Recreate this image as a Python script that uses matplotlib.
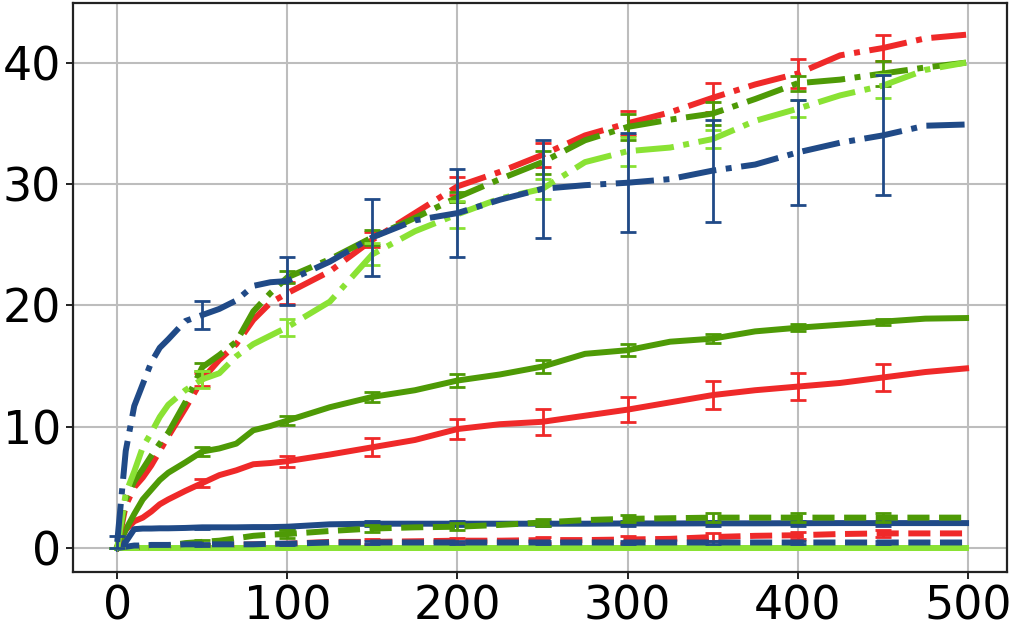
import matplotlib
matplotlib.use("Agg")
import matplotlib.pyplot as plt
import numpy as np

# sample positions along the horizontal axis
X = [0, 5, 10, 15, 20, 25, 30, 40, 50, 60, 70, 80, 90, 100, 125, 150, 175,
     200, 225, 250, 275, 300, 325, 350, 375, 400, 425, 450, 475, 499]
ERR_X = [0, 50, 100, 150, 200, 250, 300, 350, 400, 450]

# red
red_solid = [0, 1.5, 2.2, 2.5, 3.0, 3.6, 4.0, 4.7, 5.35, 6.0, 6.4, 6.9, 7.0, 7.15, 7.7, 8.3, 8.9,
             9.8, 10.2, 10.4, 10.9, 11.4, 12.0, 12.6, 13.0, 13.3, 13.6, 14.05, 14.5, 14.8]
red_dashed = [0, 0, 0.05, 0.1, 0.1, 0.1, 0.15, 0.15, 0.2, 0.2, 0.25, 0.3, 0.3, 0.35, 0.5, 0.5, 0.55,
              0.6, 0.6, 0.65, 0.65, 0.7, 0.75, 0.9, 1.0, 1.05, 1.15, 1.2, 1.2, 1.2]
red_dashdot = [0, 3.5, 5.0, 5.8, 6.8, 8.0, 9.2, 11.5, 13.9, 15.5, 16.8, 18.8, 20.2, 21.0, 22.8, 25.4, 27.6,
               29.8, 31.0, 32.4, 34.0, 35.0, 35.9, 37.1, 38.2, 39.1, 40.6, 41.2, 42.0, 42.3]
# dark green
green_solid = [0, 1.5, 2.8, 4.0, 4.8, 5.6, 6.2, 7.05, 7.95, 8.2, 8.6, 9.7, 10.05, 10.5, 11.6, 12.45, 13.0,
               13.8, 14.3, 14.95, 16.0, 16.3, 17.0, 17.25, 17.85, 18.15, 18.4, 18.65, 18.9, 18.95]
green_dashed = [0, 0, 0.05, 0.1, 0.1, 0.15, 0.2, 0.4, 0.5, 0.6, 0.8, 1.0, 1.1, 1.15, 1.4, 1.6, 1.7,
                1.75, 1.9, 2.1, 2.3, 2.4, 2.45, 2.5, 2.5, 2.5, 2.5, 2.5, 2.5, 2.5]
green_dashdot = [0, 4.0, 5.5, 6.5, 7.6, 8.6, 9.5, 12.0, 14.9, 15.9, 17.0, 19.5, 21.0, 22.3, 23.8, 25.6, 27.2,
                 28.9, 30.4, 31.8, 33.6, 34.7, 35.3, 35.8, 37.0, 38.3, 38.6, 39.1, 39.6, 40.0]
# light green
lime_solid = [0] * 30
lime_dashed = [0] * 30
lime_dashdot = [0, 4.5, 6.3, 8.3, 9.5, 10.8, 11.8, 13.0, 13.9, 14.4, 15.8, 16.8, 17.5, 18.2, 20.3, 24.2, 26.1,
                27.5, 28.8, 29.6, 31.8, 32.7, 33.0, 33.7, 35.2, 36.2, 37.3, 38.1, 39.4, 40.0]
# dark blue
blue_solid = [0, 0.5, 1.55, 1.6, 1.6, 1.62, 1.62, 1.65, 1.7, 1.7, 1.7, 1.72, 1.72, 1.75, 1.95, 2.0, 2.0,
              2.0, 2.0, 2.0, 2.0, 2.02, 2.02, 2.03, 2.03, 2.04, 2.05, 2.05, 2.05, 2.05]
blue_dashed = [0, 0.1, 0.2, 0.2, 0.25, 0.25, 0.25, 0.3, 0.3, 0.3, 0.3, 0.3, 0.35, 0.35, 0.45, 0.45, 0.45,
               0.45, 0.45, 0.45, 0.45, 0.45, 0.45, 0.45, 0.45, 0.45, 0.45, 0.45, 0.45, 0.45]
blue_dashdot = [0.5, 8.0, 11.7, 13.5, 15.3, 16.5, 17.2, 18.7, 19.2, 19.7, 20.4, 21.6, 21.9, 22.0, 23.6, 25.6, 27.0,
                27.6, 28.7, 29.6, 29.9, 30.1, 30.4, 31.1, 31.6, 32.6, 33.4, 34.0, 34.8, 34.9]

# half-widths of the error bars at ERR_X
red_solid_err = [0, 0.35, 0.45, 0.75, 0.85, 1.05, 1.05, 1.15, 1.1, 1.1]
red_dashed_err = [0, 0.1, 0.15, 0.2, 0.2, 0.25, 0.25, 0.3, 0.3, 0.3]
red_dashdot_err = [0, 0.55, 0.9, 0.6, 0.75, 1.0, 1.0, 1.2, 1.2, 1.05]
green_solid_err = [0, 0.35, 0.4, 0.4, 0.55, 0.55, 0.5, 0.35, 0.3, 0.25]
green_dashed_err = [0, 0.15, 0.3, 0.3, 0.3, 0.3, 0.3, 0.35, 0.35, 0.35]
green_dashdot_err = [0, 0.35, 0.5, 0.6, 0.4, 0.95, 1.05, 0.95, 0.6, 1.0]
lime_solid_err = [0] * 10
lime_dashed_err = [0] * 10
lime_dashdot_err = [0, 0.7, 0.7, 0.9, 1.1, 0.8, 1.2, 0.75, 0.7, 1.0]
blue_solid_err = [0, 0.15, 0.15, 0.2, 0.2, 0.2, 0.2, 0.2, 0.2, 0.2]
blue_dashed_err = [0, 0.1, 0.1, 0.1, 0.1, 0.1, 0.15, 0.15, 0.15, 0.15]
blue_dashdot_err = [0.5, 1.15, 2.0, 3.2, 3.6, 4.05, 4.1, 4.2, 4.35, 4.95]

COLORS = {"red": "#EF2929", "green": "#4E9A06", "lime": "#8AE234", "blue": "#204A87"}

SERIES = [
    ("red", "-", red_solid, red_solid_err),
    ("green", "-", green_solid, green_solid_err),
    ("lime", "-", lime_solid, lime_solid_err),
    ("blue", "-", blue_solid, blue_solid_err),
    ("red", "--", red_dashed, red_dashed_err),
    ("green", "--", green_dashed, green_dashed_err),
    ("lime", "--", lime_dashed, lime_dashed_err),
    ("blue", "--", blue_dashed, blue_dashed_err),
    ("red", "-.", red_dashdot, red_dashdot_err),
    ("green", "-.", green_dashdot, green_dashdot_err),
    ("lime", "-.", lime_dashdot, lime_dashdot_err),
    ("blue", "-.", blue_dashdot, blue_dashdot_err),
]


def main() -> None:
    fig = plt.figure(figsize=(10.14, 6.33), dpi=100)
    ax = fig.add_axes([0.072, 0.096, 0.921, 0.899])

    x = np.array(X)
    idx = [X.index(v) for v in ERR_X]
    for color, ls, ys, err in SERIES:
        ys = np.array(ys)
        c = COLORS[color]
        ax.plot(x, ys, color=c, linestyle=ls, linewidth=4.3, zorder=3)
        ax.errorbar(x[idx], ys[idx], yerr=err, fmt="none", ecolor=c,
                    elinewidth=2.0, capsize=5.5, capthick=2.0, zorder=3)

    ax.set_xlim(-26, 523)
    ax.set_ylim(-2.0, 44.9)
    ax.set_xticks([0, 100, 200, 300, 400, 500])
    ax.set_yticks([0, 10, 20, 30, 40])
    ax.grid(True, color="#bdbdbd", linewidth=1.5)
    ax.set_axisbelow(True)
    for spine in ax.spines.values():
        spine.set_linewidth(1.6)
        spine.set_color("#222222")
    ax.tick_params(labelsize=33, width=1.4, length=5, color="#222222")

    fig.savefig("out.png", dpi=100)


if __name__ == "__main__":
    main()
